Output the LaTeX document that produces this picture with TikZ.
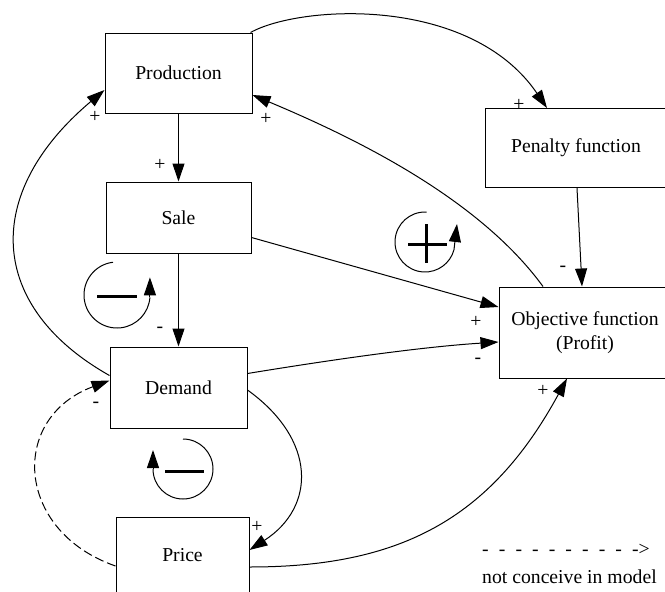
\documentclass[tikz,border=0pt]{standalone}
\usepackage{fontspec}
\setmainfont{Liberation Serif}
\usetikzlibrary{arrows.meta,calc}
\begin{document}
\begin{tikzpicture}[x=1pt,y=1pt,
  box/.style={draw, line width=1pt, inner sep=0pt, font=\fontsize{19.7pt}{24pt}\selectfont, align=center},
  lab/.style={inner sep=0pt, font=\fontsize{19.7pt}{24pt}\selectfont},
  conn/.style={line width=1pt, -{Triangle[length=18pt,width=12pt]}},
  notmodel/.style={dash pattern=on 9pt off 4pt},
  loopline/.style={line width=1pt},
  loopsign/.style={line width=3pt}
]
\useasboundingbox (0,0) rectangle (665,-592);
% boxes
\node[box, minimum width=147pt, minimum height=80pt] (prod) at (178.5,-73) {Production};
\node[box, minimum width=145pt, minimum height=71pt] (sale) at (178.5,-217.5) {Sale};
\node[box, minimum width=137pt, minimum height=81pt] (dem) at (178.5,-387.5) {Demand};
\node[box, minimum width=133pt, minimum height=76pt] (price) at (182.5,-555) {Price};
\node[box, minimum width=182pt, minimum height=79pt] (pen) at (576,-148) {Penalty function};
\node[box, minimum width=172pt, minimum height=91pt] (obj) at (585,-332.5) {Objective function\\(Profit)};
% connectors
\draw[conn] (prod) -- (sale);
\draw[conn] (sale) -- (dem);
\draw[conn] ([yshift=-20pt]sale.east) -- ([yshift=25.5pt]obj.west);
\draw[conn] ([yshift=14pt]dem.east) .. controls (330,-360) and (420,-347) .. ([yshift=-9.5pt]obj.west);
\draw[conn] ([yshift=12pt]dem.west) .. controls (-12,-307) and (-19,-194) .. ([yshift=-17pt]prod.west);
\draw[conn] ([xshift=-42pt]obj.north) .. controls (480,-200) and (360,-140) .. ([yshift=-22pt]prod.east);
\draw[conn] ([xshift=-2pt]prod.north east) .. controls (300,-5) and (470,5) .. ([xshift=-29pt]pen.north);
\draw[conn] ([xshift=1pt]pen.south) -- ([xshift=-3pt]obj.north);
\draw[conn] ([yshift=-2.5pt]dem.east) .. controls (317,-440) and (316,-507) .. ([yshift=5pt]price.east);
\draw[conn,notmodel] ([yshift=-11pt]price.west) .. controls (15,-531) and (9,-418) .. ([yshift=7pt]dem.west);
\draw[conn] ([yshift=-12pt]price.east) .. controls (399,-567) and (490,-520) .. ([xshift=-18pt]obj.south);
% polarity labels
\node[lab] (l1) at (95,-117) {+};
\node[lab] (l2) at (266,-119) {+};
\node[lab] (l3) at (160,-165) {+};
\node[lab] (l4) at (160,-330) {-};
\node[lab] (l5) at (519,-105) {+};
\node[lab] (l6) at (563,-269) {-};
\node[lab] (l7) at (476,-322) {+};
\node[lab] (l8) at (478,-361) {-};
\node[lab] (l9) at (543,-391) {+};
\node[lab] (l10) at (257,-527) {+};
\node[lab] (l11) at (96,-405) {-};
% loop markers
\draw[loopline] (117,-295) ++(97:33) arc[start angle=97, end angle=356, radius=33] coordinate (m1);
\draw[conn] (m1) -- ++(0,20);
\draw[loopsign] (97,-296) -- (137,-296);
\draw[loopline] (183,-469) ++(90:30) arc[start angle=90, end angle=-180, radius=30] coordinate (m2);
\draw[conn] (m2) -- ++(0,19);
\draw[loopsign] (165,-471) -- (204,-471);
\draw[loopline] (425,-242) ++(87:30) arc[start angle=87, end angle=345, radius=30] coordinate (m3);
\draw[conn] (m3) -- (457,-224);
\draw[loopsign] (408,-244) -- (447,-244);
\draw[loopsign] (426,-224) -- (426,-263);
% legend
\node[lab, anchor=west] (leg1) at (482,-550) {-\hspace{10.1pt}-\hspace{10.1pt}-\hspace{10.1pt}-\hspace{10.1pt}-\hspace{10.1pt}-\hspace{10.1pt}-\hspace{10.1pt}-\hspace{10.1pt}-\hspace{10.1pt}->};
\node[lab, anchor=west] (leg2) at (482,-577) {not conceive in model};
\end{tikzpicture}
\end{document}
